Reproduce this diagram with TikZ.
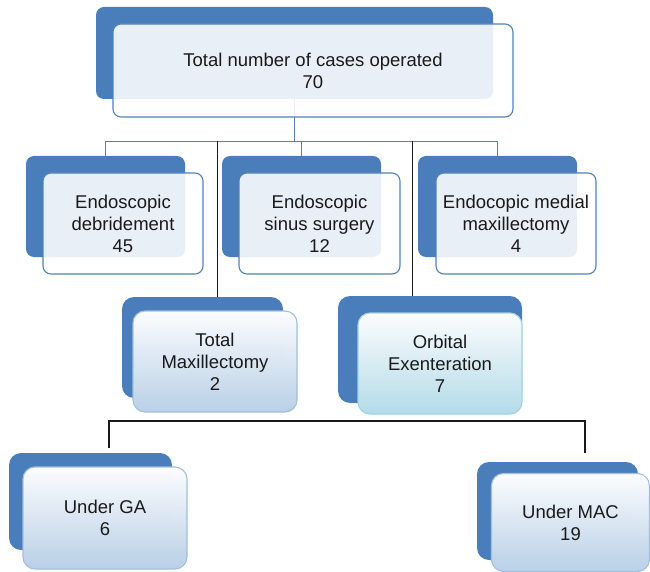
\documentclass[tikz,border=0pt]{standalone}
\usepackage{fontspec}
\setmainfont{Liberation Sans}
\usepackage{tikz}
\usetikzlibrary{calc}

\definecolor{backblue}{HTML}{4A7EBB}
\definecolor{edgeblue}{HTML}{4F81BD}
\definecolor{paleblue}{HTML}{B6CEE6}
\definecolor{paleedge}{HTML}{A3BEDF}
\definecolor{palecyan}{HTML}{B0DAE7}
\definecolor{cyanedge}{HTML}{9FD2E2}
\definecolor{inkgray}{HTML}{1A1A1A}

\begin{document}
\begin{tikzpicture}[x=1pt,y=-1pt]
    \tikzstyle{back}=[rectangle, rounded corners=8pt, fill=backblue, inner sep=0pt]
    \tikzstyle{front}=[rectangle, rounded corners=8pt, draw=edgeblue, line width=1.1pt,
                       fill=white, fill opacity=0.88, text opacity=1, text=inkgray,
                       align=center, inner sep=0pt,
                       font=\fontsize{18.5}{22}\selectfont]
    \tikzstyle{frontlow}=[front, rounded corners=12pt, draw=paleedge,
                          top color=white!96!paleblue, bottom color=paleblue, fill opacity=0.95]
    \tikzstyle{frontcyan}=[frontlow, draw=cyanedge,
                           top color=white!96!palecyan, bottom color=palecyan]
    \tikzstyle{blueline}=[draw=edgeblue, line width=1pt]
    \tikzstyle{blackline}=[draw=inkgray, line width=0.9pt]
    \tikzstyle{bracket}=[draw=inkgray, line width=1.8pt]
    \useasboundingbox (0,0) rectangle (650,572);

    % blue backing shapes
    \node[back, minimum width=397pt, minimum height=92pt] (totalback) at (294.5,53) {};
    \node[back, minimum width=159pt, minimum height=101pt] (debrback) at (105.5,206.5) {};
    \node[back, minimum width=159pt, minimum height=101pt] (sinusback) at (301.5,206.5) {};
    \node[back, minimum width=159pt, minimum height=101pt] (medback) at (497.5,206.5) {};
    \node[back, rounded corners=12pt, minimum width=161pt, minimum height=101pt] (maxback) at (202.5,347.5) {};
    \node[back, rounded corners=12pt, minimum width=184pt, minimum height=107pt] (orbback) at (430,349.5) {};
    \node[back, rounded corners=12pt, minimum width=163pt, minimum height=97pt] (gaback) at (90.5,501.5) {};
    \node[back, rounded corners=12pt, minimum width=161pt, minimum height=98pt] (macback) at (557.5,511) {};

    % connectors
    \draw[blueline] (totalback.south) -- ++(0,42) coordinate (hub);
    \draw[blueline] (hub) -| (debrback.north);
    \draw[blueline] (hub) -| (sinusback.north);
    \draw[blueline] (hub) -| (medback.north);
    \coordinate (maxdrop) at (217,141);
    \coordinate (orbdrop) at (412,141);
    \draw[blackline] (maxdrop) -- (maxdrop |- maxback.north);
    \draw[blackline] (orbdrop) -- (orbdrop |- orbback.north);
    \coordinate (galeg) at (109,448);
    \coordinate (macleg) at (585,453);
    \draw[bracket] (galeg) |- (585,421) -- (macleg);

    % front boxes with text
    \node[front, minimum width=400pt, minimum height=93pt] (total) at (313,70.5)
        {Total number of cases operated\\70};
    \node[front, minimum width=160pt, minimum height=101pt] (debr) at (123,223.5)
        {Endoscopic\\debridement\\45};
    \node[front, minimum width=161pt, minimum height=101pt] (sinus) at (319.5,223.5)
        {Endoscopic\\sinus surgery\\12};
    \node[front, minimum width=160pt, minimum height=101pt] (med) at (516,223.5)
        {Endocopic medial\\maxillectomy\\4};
    \node[frontlow, minimum width=164pt, minimum height=101pt] (max) at (215,361.5)
        {Total\\Maxillectomy\\2};
    \node[frontcyan, minimum width=164pt, minimum height=101pt] (orb) at (440,363.5)
        {Orbital\\Exenteration\\7};
    \node[frontlow, minimum width=164pt, minimum height=102pt] (ga) at (105,518)
        {Under GA\\6};
    \node[frontlow, minimum width=158pt, minimum height=98pt] (mac) at (570.5,522.5)
        {Under MAC\\19};
\end{tikzpicture}
\end{document}
